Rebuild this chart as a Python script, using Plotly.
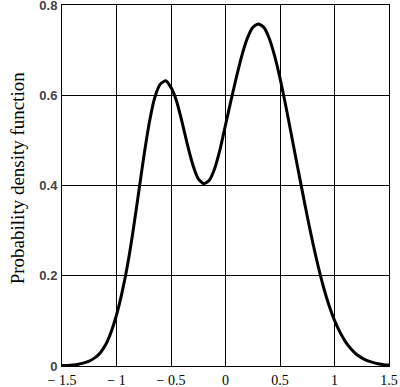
import plotly.graph_objects as go

x_vals = [-1.5, -1.45, -1.4, -1.35, -1.3, -1.25, -1.2, -1.15, -1.1, -1.05, -1.0, -0.95, -0.9, -0.85,
          -0.8, -0.75, -0.7, -0.65, -0.6, -0.55, -0.5, -0.45, -0.4, -0.35, -0.3, -0.25, -0.2, -0.15,
          -0.1, -0.05, 0.0, 0.05, 0.1, 0.15, 0.2, 0.25, 0.3, 0.35, 0.4, 0.45, 0.5, 0.55, 0.6, 0.65,
          0.7, 0.75, 0.8, 0.85, 0.9, 0.95, 1.0, 1.05, 1.1, 1.15, 1.2, 1.25, 1.3, 1.35, 1.4, 1.45, 1.5]
pdf_vals = [0.001, 0.001, 0.002, 0.004, 0.007, 0.011, 0.018, 0.029, 0.047, 0.075, 0.113, 0.162, 0.222, 0.296,
            0.379, 0.463, 0.538, 0.594, 0.624, 0.632, 0.617, 0.588, 0.542, 0.491, 0.446, 0.415, 0.404, 0.411,
            0.437, 0.480, 0.534, 0.588, 0.640, 0.688, 0.726, 0.750, 0.758, 0.751, 0.727, 0.688, 0.638, 0.580,
            0.518, 0.455, 0.393, 0.332, 0.274, 0.221, 0.174, 0.134, 0.101, 0.075, 0.054, 0.038, 0.026, 0.018,
            0.012, 0.008, 0.005, 0.003, 0.002]

x_ticks = [-1.5, -1.0, -0.5, 0.0, 0.5, 1.0, 1.5]
x_tick_text = ["\u2212 1.5", "\u2212 1", "\u2212 0.5", "0", "0.5", "1", "1.5"]
y_ticks = [0, 0.2, 0.4, 0.6, 0.8]
y_tick_text = ["0", "0.2", "0.4", "0.6", "0.8"]

fig = go.Figure()
fig.add_trace(go.Scatter(x=x_vals, y=pdf_vals, mode="lines",
                         line=dict(color="black", width=3, shape="spline", smoothing=0.6),
                         hoverinfo="skip", showlegend=False))

fig.update_layout(
    width=400, height=387,
    margin=dict(l=62, r=11, t=5, b=21, autoexpand=False),
    paper_bgcolor="white", plot_bgcolor="white",
    showlegend=False,
)
fig.update_xaxes(range=[-1.5, 1.5], tickvals=x_ticks, ticktext=x_tick_text,
                 showgrid=True, gridcolor="black", gridwidth=1,
                 showline=True, linecolor="black", linewidth=1, mirror=True,
                 zeroline=False, ticks="", automargin=False, ticklabeloverflow="allow",
                 ticklabelstandoff=1,
                 tickfont=dict(family="Liberation Serif", size=14, color="black"))
fig.update_yaxes(range=[0, 0.8], tickvals=y_ticks, ticktext=y_tick_text,
                 showgrid=True, gridcolor="black", gridwidth=1,
                 showline=True, linecolor="black", linewidth=1, mirror=True,
                 zeroline=False, ticks="", ticklabelstandoff=1, automargin=False,
                 ticklabeloverflow="allow",
                 tickfont=dict(family="Liberation Sans", size=13, color="#444", weight="bold"))
fig.add_annotation(text="Probability density function", xref="paper", yref="paper",
                   x=-0.1376, y=0.52, xanchor="center", yanchor="middle", textangle=-90,
                   showarrow=False,
                   font=dict(family="Liberation Serif", size=19, color="black"))

fig.write_html("out.html", config={"displayModeBar": False},
               post_script="document.body.style.margin='0';document.body.style.overflow='hidden';")
